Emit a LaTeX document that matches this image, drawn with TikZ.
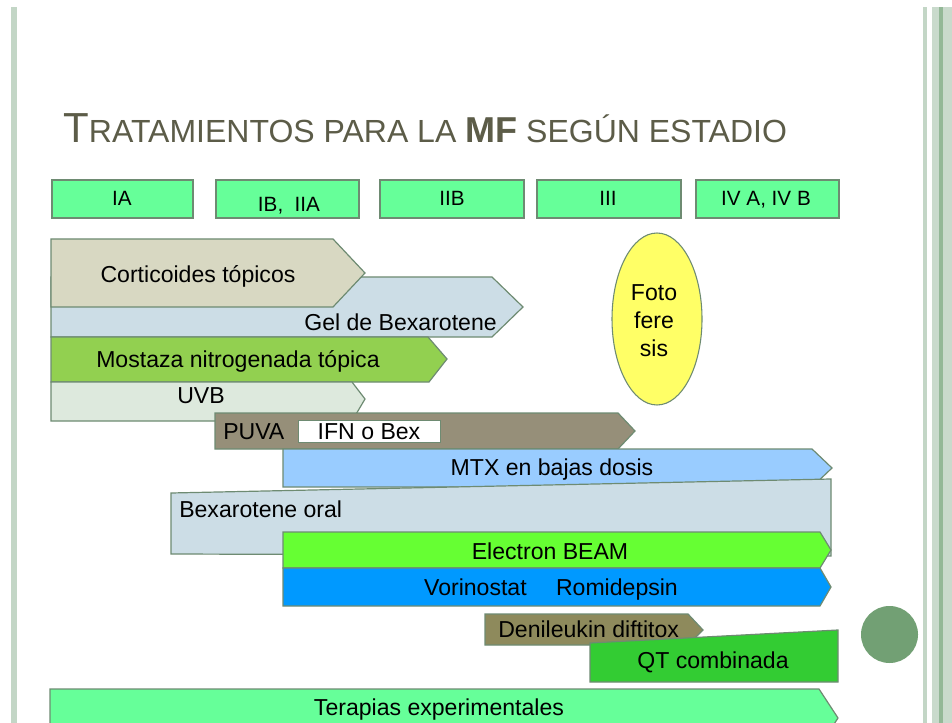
\documentclass[tikz,border=0pt]{standalone}
\usepackage{fontspec}
\setmainfont{Liberation Sans}
\definecolor{bordl}{HTML}{C3D6C6}
\definecolor{bordm}{HTML}{C9DACC}
\definecolor{bordd}{HTML}{93B897}
\definecolor{titc}{HTML}{5C5C48}
\definecolor{edgec}{HTML}{6E8B72}
\definecolor{stagec}{HTML}{66FF99}
\definecolor{cortc}{HTML}{D8D8C2}
\definecolor{gelc}{HTML}{CCDDE6}
\definecolor{mostc}{HTML}{92D050}
\definecolor{uvbc}{HTML}{DDE9DD}
\definecolor{puvac}{HTML}{968F79}
\definecolor{mtxc}{HTML}{99CCFF}
\definecolor{elecc}{HTML}{66FF33}
\definecolor{vorc}{HTML}{0099FF}
\definecolor{denc}{HTML}{8E8A5C}
\definecolor{qtc}{HTML}{33CC33}
\definecolor{yelc}{HTML}{FFFF66}
\definecolor{dotc}{HTML}{72A074}
\newcommand\barfont{\fontsize{17.3}{20}\selectfont}
\newcommand\stagefont{\fontsize{15.5}{18}\selectfont}
\newcommand\fotofont{\fontsize{17.3}{21}\selectfont}
\tikzset{
  barshape/.style={draw=edgec, line width=0.9pt, line join=miter},
  stagebox/.style={draw=edgec, line width=1.2pt, fill=stagec},
  lbl/.style={font=\barfont, text=black, inner sep=0pt, anchor=base},
  stagelbl/.style={font=\stagefont, text=black, inner sep=0pt, anchor=base},
}
\begin{document}
\begin{tikzpicture}[x=0.75pt,y=-0.75pt]
\useasboundingbox (0,0) rectangle (952,723);
\clip (0,0) rectangle (952,723);
\fill[white] (0,0) rectangle (952,723);
% borders
\fill[bordl] (11,7) rectangle (17,723);
\fill[bordl] (923,7) rectangle (927,723);
\fill[bordm] (932,7) rectangle (952,723);
\fill[bordd] (939,7) rectangle (943,723);
% title
\node[anchor=base west, inner sep=0pt, text=titc] (title) at (63,143)
  {{\fontsize{31.5}{36}\selectfont T}{\fontsize{24}{28}\selectfont RATAMIENTOS PARA LA }{\fontsize{27}{30}\selectfont\bfseries MF}{\fontsize{24}{28}\selectfont{} SEGÚN ESTADIO}};
% stage boxes
\draw[stagebox] (52,180) rectangle (193,218);
\draw[stagebox] (216,180) rectangle (359,218);
\draw[stagebox] (380,180) rectangle (524,218);
\draw[stagebox] (537,180) rectangle (681,218);
\draw[stagebox] (696,180) rectangle (839,218);
\node[stagelbl] (s1) at (122,206) {IA};
\node[stagelbl] (s2) at (289,212) {IB,\ \ IIA};
\node[stagelbl] (s3) at (452,206) {IIB};
\node[stagelbl] (s4) at (608,206) {III};
\node[stagelbl] (s5) at (766,206) {IV A, IV B};
% bars
\filldraw[barshape, fill=gelc] (51,277) -- (492,277) -- (523,307) -- (492,337) -- (51,337) -- cycle;
\filldraw[barshape, fill=cortc] (51,239) -- (333,239) -- (365,273) -- (333,307) -- (51,307) -- cycle;
\filldraw[barshape, fill=mostc] (51,337) -- (428,337) -- (447,359) -- (429,382) -- (51,382) -- cycle;
\filldraw[barshape, fill=uvbc] (51,382) -- (352,382) -- (365,399) -- (352,421) -- (51,421) -- cycle;
\filldraw[barshape, fill=puvac] (215,413) -- (618,413) -- (635,431) -- (618,449) -- (215,449) -- cycle;
\filldraw[draw=edgec, line width=0.6pt, fill=white] (298,420) rectangle (440,442);
\filldraw[barshape, fill=mtxc] (283,449) -- (812,449) -- (832,468) -- (812,487) -- (283,487) -- cycle;
\filldraw[barshape, fill=gelc] (171,493) -- (831,479) -- (831,556) -- (171,554) -- cycle;
\filldraw[barshape, fill=elecc] (283,532) -- (820,532) -- (831,550) -- (820,568) -- (283,568) -- cycle;
\filldraw[barshape, fill=vorc] (283,568) -- (820,568) -- (831,587) -- (820,606) -- (283,606) -- cycle;
\filldraw[barshape, fill=denc] (485,614) -- (688,614) -- (703,630) -- (688,645) -- (485,645) -- cycle;
\filldraw[barshape, fill=qtc] (590,643) -- (838,630) -- (838,682) -- (590,682) -- cycle;
\filldraw[barshape, fill=stagec] (50,689) -- (819,689) -- (838,718) -- (819,747) -- (50,747) -- cycle;
% ellipse and dot
\filldraw[fill=yelc, draw=edgec, line width=0.8pt] (657,319) ellipse [x radius=45, y radius=86];
\fill[dotc] (889.5,634.5) circle [radius=28.5];
% labels
\node[lbl] (cort) at (198,283) {Corticoides tópicos};
\node[lbl, anchor=base east] (gel) at (497,330) {Gel de Bexarotene};
\node[lbl, anchor=base west] (most) at (96,367) {Mostaza nitrogenada tópica};
\node[lbl] (uvb) at (201,403) {UVB};
\node[lbl, anchor=base west] (puva) at (223,439) {PUVA};
\node[lbl] (ifn) at (369,439) {IFN o Bex};
\node[lbl] (mtx) at (552,475) {MTX en bajas dosis};
\node[lbl, anchor=base west] (bexo) at (179,517) {Bexarotene oral};
\node[lbl] (elec) at (550,559) {Electron BEAM};
\node[lbl] (vor) at (551,595) {Vorinostat\hspace{22pt}Romidepsin};
\node[lbl, anchor=base west] (den) at (498,637) {Denileukin diftitox};
\node[lbl] (qt) at (713,668) {QT combinada};
\node[lbl] (ter) at (439,715) {Terapias experimentales};
\node[lbl, align=center, font=\fotofont, anchor=center] (foto) at (654,321) {Foto\\fere\\sis};
\end{tikzpicture}
\end{document}
